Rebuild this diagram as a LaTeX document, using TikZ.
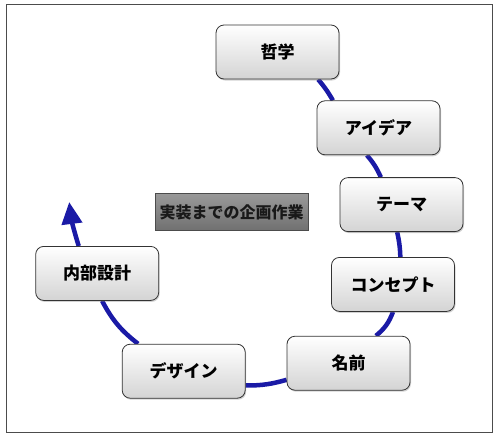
\documentclass[tikz,border=0pt]{standalone}
\usepackage{fontspec}
\newfontfamily\cjk{Noto Sans CJK JP}
\usepackage{xcolor}
\definecolor{colorFlow}{RGB}{26,26,166}
\colorlet{colorBorder}{black!80}
\usetikzlibrary{arrows.meta, positioning, shadows, backgrounds}
\tikzset{
  stepbox/.style={draw=colorBorder, line width=0.8pt, rounded corners=8pt, top color=white, bottom color=black!17, minimum width=123pt, minimum height=54pt, font=\cjk\bfseries\fontsize{17}{19}\selectfont, drop shadow={shadow xshift=1pt, shadow yshift=-1.5pt, opacity=0.35}},
  titlebox/.style={draw=black!70, line width=0.8pt, top color=black!40, bottom color=black!56, minimum width=153pt, minimum height=37pt, font=\cjk\bfseries\fontsize{16}{18}\selectfont, text=black!90},
  flow/.style={colorFlow, line width=4.5pt},
  frame/.style={draw=black!70, line width=1pt, fill=white, drop shadow={shadow xshift=1pt, shadow yshift=-1pt, opacity=0.3}}
}

\begin{document}
\begin{tikzpicture}[x=1pt, y=1pt, node distance=20pt]
\useasboundingbox (0,0) rectangle (500,-440);
\node[stepbox] (phil) at (277.5,-52) {哲学};
\node[stepbox, below=21pt of phil, xshift=101pt] (idea) {アイデア};
\node[stepbox, below=22pt of idea, xshift=23pt] (theme) {テーマ};
\node[stepbox, below=25pt of theme, xshift=-8.5pt] (concept) {コンセプト};
\node[stepbox, below=24pt of concept, xshift=-44.5pt] (name) {名前};
\node[stepbox, left=41pt of name, yshift=-8pt] (design) {デザイン};
\node[stepbox, above=43pt of design, xshift=-86.5pt] (inner) {内部設計};
\node[titlebox, left=31pt of theme, yshift=-7.5pt] (title) {実装までの企画作業};
\coordinate[above=44pt of inner, xshift=-28pt] (goal);
\begin{scope}[on background layer]
\draw[frame] (6,-4) rectangle (492,-432);
\draw[flow] (phil.-34) edge[bend left=5] (idea.149);
\draw[flow] (idea.-113) edge[bend left=8] (theme.127);
\draw[flow] (theme.-99) edge[bend left=5] (concept.75);
\draw[flow] (concept.south) edge[bend left=15] (name.45);
\draw[flow] (name.195) edge[bend left=8] (design.-13);
\draw[flow] (design.149) edge[bend left=12] (inner.-80);
\draw[flow, -{Triangle[length=22pt, width=20pt]}] (inner.124) to[bend left=5] (goal);
\end{scope}
\end{tikzpicture}
\end{document}
